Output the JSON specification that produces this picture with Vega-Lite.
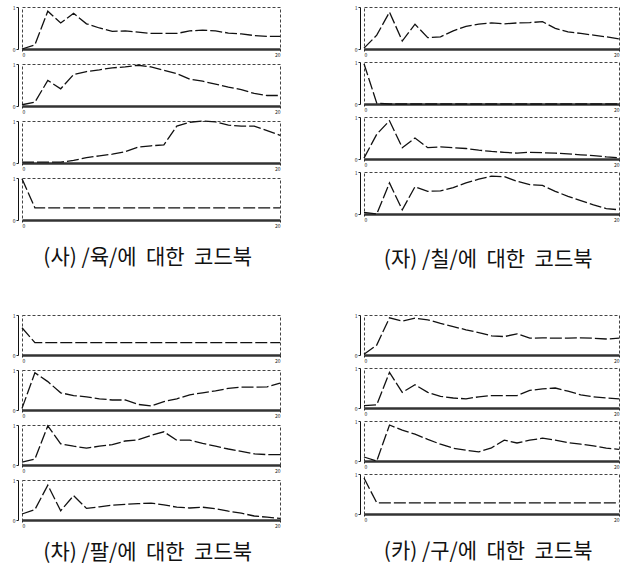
{
 "$schema": "https://vega.github.io/schema/vega-lite/v6.json",
 "background": "white",
 "padding": {"left": 12, "top": 5, "right": 5, "bottom": 2},
 "config": {
  "view": {"stroke": "#444", "strokeDash": [3, 2], "strokeWidth": 1},
  "font": "Noto Sans CJK KR",
  "title": {"fontSize": 21, "fontWeight": "normal", "color": "#111", "font": "Noto Sans CJK KR", "anchor": "middle"},
  "axis": {"grid": false, "title": null, "labelFontSize": 5, "labelColor": "#222", "tickSize": 2, "tickColor": "#222", "labelPadding": 1}
 },
 "data": {"values": [
  {"g":"A","p":1,"x":0,"y":0},{"g":"A","p":1,"x":1,"y":0.1},{"g":"A","p":1,"x":2,"y":0.9},{"g":"A","p":1,"x":3,"y":0.62},{"g":"A","p":1,"x":4,"y":0.85},{"g":"A","p":1,"x":5,"y":0.6},{"g":"A","p":1,"x":6,"y":0.5},{"g":"A","p":1,"x":7,"y":0.42},{"g":"A","p":1,"x":8,"y":0.43},{"g":"A","p":1,"x":9,"y":0.4},{"g":"A","p":1,"x":10,"y":0.37},{"g":"A","p":1,"x":11,"y":0.37},{"g":"A","p":1,"x":12,"y":0.37},{"g":"A","p":1,"x":13,"y":0.43},{"g":"A","p":1,"x":14,"y":0.45},{"g":"A","p":1,"x":15,"y":0.43},{"g":"A","p":1,"x":16,"y":0.38},{"g":"A","p":1,"x":17,"y":0.36},{"g":"A","p":1,"x":18,"y":0.32},{"g":"A","p":1,"x":19,"y":0.3},{"g":"A","p":1,"x":20,"y":0.3},
  {"g":"A","p":2,"x":0,"y":0.03},{"g":"A","p":2,"x":1,"y":0.09},{"g":"A","p":2,"x":2,"y":0.61},{"g":"A","p":2,"x":3,"y":0.41},{"g":"A","p":2,"x":4,"y":0.75},{"g":"A","p":2,"x":5,"y":0.82},{"g":"A","p":2,"x":6,"y":0.86},{"g":"A","p":2,"x":7,"y":0.91},{"g":"A","p":2,"x":8,"y":0.93},{"g":"A","p":2,"x":9,"y":0.97},{"g":"A","p":2,"x":10,"y":0.93},{"g":"A","p":2,"x":11,"y":0.85},{"g":"A","p":2,"x":12,"y":0.77},{"g":"A","p":2,"x":13,"y":0.64},{"g":"A","p":2,"x":14,"y":0.59},{"g":"A","p":2,"x":15,"y":0.52},{"g":"A","p":2,"x":16,"y":0.45},{"g":"A","p":2,"x":17,"y":0.39},{"g":"A","p":2,"x":18,"y":0.3},{"g":"A","p":2,"x":19,"y":0.25},{"g":"A","p":2,"x":20,"y":0.25},
  {"g":"A","p":3,"x":0,"y":0.02},{"g":"A","p":3,"x":1,"y":0.02},{"g":"A","p":3,"x":2,"y":0.02},{"g":"A","p":3,"x":3,"y":0.02},{"g":"A","p":3,"x":4,"y":0.06},{"g":"A","p":3,"x":5,"y":0.13},{"g":"A","p":3,"x":6,"y":0.17},{"g":"A","p":3,"x":7,"y":0.21},{"g":"A","p":3,"x":8,"y":0.27},{"g":"A","p":3,"x":9,"y":0.38},{"g":"A","p":3,"x":10,"y":0.41},{"g":"A","p":3,"x":11,"y":0.43},{"g":"A","p":3,"x":12,"y":0.88},{"g":"A","p":3,"x":13,"y":0.97},{"g":"A","p":3,"x":14,"y":1},{"g":"A","p":3,"x":15,"y":0.98},{"g":"A","p":3,"x":16,"y":0.9},{"g":"A","p":3,"x":17,"y":0.88},{"g":"A","p":3,"x":18,"y":0.88},{"g":"A","p":3,"x":19,"y":0.77},{"g":"A","p":3,"x":20,"y":0.66},
  {"g":"A","p":4,"x":0,"y":0.98},{"g":"A","p":4,"x":1,"y":0.29},{"g":"A","p":4,"x":2,"y":0.29},{"g":"A","p":4,"x":3,"y":0.29},{"g":"A","p":4,"x":4,"y":0.29},{"g":"A","p":4,"x":5,"y":0.29},{"g":"A","p":4,"x":6,"y":0.29},{"g":"A","p":4,"x":7,"y":0.29},{"g":"A","p":4,"x":8,"y":0.29},{"g":"A","p":4,"x":9,"y":0.29},{"g":"A","p":4,"x":10,"y":0.29},{"g":"A","p":4,"x":11,"y":0.29},{"g":"A","p":4,"x":12,"y":0.29},{"g":"A","p":4,"x":13,"y":0.29},{"g":"A","p":4,"x":14,"y":0.29},{"g":"A","p":4,"x":15,"y":0.29},{"g":"A","p":4,"x":16,"y":0.29},{"g":"A","p":4,"x":17,"y":0.29},{"g":"A","p":4,"x":18,"y":0.29},{"g":"A","p":4,"x":19,"y":0.29},{"g":"A","p":4,"x":20,"y":0.29},
  {"g":"B","p":1,"x":0,"y":0.02},{"g":"B","p":1,"x":1,"y":0.33},{"g":"B","p":1,"x":2,"y":0.88},{"g":"B","p":1,"x":3,"y":0.19},{"g":"B","p":1,"x":4,"y":0.59},{"g":"B","p":1,"x":5,"y":0.27},{"g":"B","p":1,"x":6,"y":0.29},{"g":"B","p":1,"x":7,"y":0.43},{"g":"B","p":1,"x":8,"y":0.54},{"g":"B","p":1,"x":9,"y":0.59},{"g":"B","p":1,"x":10,"y":0.62},{"g":"B","p":1,"x":11,"y":0.6},{"g":"B","p":1,"x":12,"y":0.62},{"g":"B","p":1,"x":13,"y":0.63},{"g":"B","p":1,"x":14,"y":0.65},{"g":"B","p":1,"x":15,"y":0.49},{"g":"B","p":1,"x":16,"y":0.41},{"g":"B","p":1,"x":17,"y":0.37},{"g":"B","p":1,"x":18,"y":0.33},{"g":"B","p":1,"x":19,"y":0.29},{"g":"B","p":1,"x":20,"y":0.24},
  {"g":"B","p":2,"x":0,"y":0.96},{"g":"B","p":2,"x":1,"y":0.02},{"g":"B","p":2,"x":2,"y":0},{"g":"B","p":2,"x":3,"y":0},{"g":"B","p":2,"x":4,"y":0},{"g":"B","p":2,"x":5,"y":0},{"g":"B","p":2,"x":6,"y":0},{"g":"B","p":2,"x":7,"y":0},{"g":"B","p":2,"x":8,"y":0},{"g":"B","p":2,"x":9,"y":0},{"g":"B","p":2,"x":10,"y":0},{"g":"B","p":2,"x":11,"y":0},{"g":"B","p":2,"x":12,"y":0},{"g":"B","p":2,"x":13,"y":0},{"g":"B","p":2,"x":14,"y":0},{"g":"B","p":2,"x":15,"y":0},{"g":"B","p":2,"x":16,"y":0},{"g":"B","p":2,"x":17,"y":0},{"g":"B","p":2,"x":18,"y":0},{"g":"B","p":2,"x":19,"y":0},{"g":"B","p":2,"x":20,"y":0},
  {"g":"B","p":3,"x":0,"y":0.02},{"g":"B","p":3,"x":1,"y":0.59},{"g":"B","p":3,"x":2,"y":0.91},{"g":"B","p":3,"x":3,"y":0.27},{"g":"B","p":3,"x":4,"y":0.5},{"g":"B","p":3,"x":5,"y":0.27},{"g":"B","p":3,"x":6,"y":0.29},{"g":"B","p":3,"x":7,"y":0.27},{"g":"B","p":3,"x":8,"y":0.25},{"g":"B","p":3,"x":9,"y":0.21},{"g":"B","p":3,"x":10,"y":0.18},{"g":"B","p":3,"x":11,"y":0.16},{"g":"B","p":3,"x":12,"y":0.14},{"g":"B","p":3,"x":13,"y":0.16},{"g":"B","p":3,"x":14,"y":0.15},{"g":"B","p":3,"x":15,"y":0.14},{"g":"B","p":3,"x":16,"y":0.12},{"g":"B","p":3,"x":17,"y":0.1},{"g":"B","p":3,"x":18,"y":0.08},{"g":"B","p":3,"x":19,"y":0.05},{"g":"B","p":3,"x":20,"y":0.03},
  {"g":"B","p":4,"x":0,"y":0.04},{"g":"B","p":4,"x":1,"y":0},{"g":"B","p":4,"x":2,"y":0.74},{"g":"B","p":4,"x":3,"y":0.1},{"g":"B","p":4,"x":4,"y":0.65},{"g":"B","p":4,"x":5,"y":0.54},{"g":"B","p":4,"x":6,"y":0.55},{"g":"B","p":4,"x":7,"y":0.63},{"g":"B","p":4,"x":8,"y":0.74},{"g":"B","p":4,"x":9,"y":0.83},{"g":"B","p":4,"x":10,"y":0.9},{"g":"B","p":4,"x":11,"y":0.89},{"g":"B","p":4,"x":12,"y":0.78},{"g":"B","p":4,"x":13,"y":0.7},{"g":"B","p":4,"x":14,"y":0.68},{"g":"B","p":4,"x":15,"y":0.54},{"g":"B","p":4,"x":16,"y":0.42},{"g":"B","p":4,"x":17,"y":0.32},{"g":"B","p":4,"x":18,"y":0.22},{"g":"B","p":4,"x":19,"y":0.13},{"g":"B","p":4,"x":20,"y":0.1},
  {"g":"C","p":1,"x":0,"y":0.68},{"g":"C","p":1,"x":1,"y":0.31},{"g":"C","p":1,"x":2,"y":0.31},{"g":"C","p":1,"x":3,"y":0.31},{"g":"C","p":1,"x":4,"y":0.31},{"g":"C","p":1,"x":5,"y":0.31},{"g":"C","p":1,"x":6,"y":0.31},{"g":"C","p":1,"x":7,"y":0.31},{"g":"C","p":1,"x":8,"y":0.31},{"g":"C","p":1,"x":9,"y":0.31},{"g":"C","p":1,"x":10,"y":0.31},{"g":"C","p":1,"x":11,"y":0.31},{"g":"C","p":1,"x":12,"y":0.31},{"g":"C","p":1,"x":13,"y":0.31},{"g":"C","p":1,"x":14,"y":0.31},{"g":"C","p":1,"x":15,"y":0.31},{"g":"C","p":1,"x":16,"y":0.31},{"g":"C","p":1,"x":17,"y":0.31},{"g":"C","p":1,"x":18,"y":0.31},{"g":"C","p":1,"x":19,"y":0.31},{"g":"C","p":1,"x":20,"y":0.31},
  {"g":"C","p":2,"x":0,"y":0.04},{"g":"C","p":2,"x":1,"y":0.93},{"g":"C","p":2,"x":2,"y":0.71},{"g":"C","p":2,"x":3,"y":0.43},{"g":"C","p":2,"x":4,"y":0.36},{"g":"C","p":2,"x":5,"y":0.33},{"g":"C","p":2,"x":6,"y":0.28},{"g":"C","p":2,"x":7,"y":0.25},{"g":"C","p":2,"x":8,"y":0.25},{"g":"C","p":2,"x":9,"y":0.14},{"g":"C","p":2,"x":10,"y":0.1},{"g":"C","p":2,"x":11,"y":0.21},{"g":"C","p":2,"x":12,"y":0.28},{"g":"C","p":2,"x":13,"y":0.38},{"g":"C","p":2,"x":14,"y":0.43},{"g":"C","p":2,"x":15,"y":0.48},{"g":"C","p":2,"x":16,"y":0.54},{"g":"C","p":2,"x":17,"y":0.57},{"g":"C","p":2,"x":18,"y":0.57},{"g":"C","p":2,"x":19,"y":0.58},{"g":"C","p":2,"x":20,"y":0.67},
  {"g":"C","p":3,"x":0,"y":0.07},{"g":"C","p":3,"x":1,"y":0.15},{"g":"C","p":3,"x":2,"y":0.98},{"g":"C","p":3,"x":3,"y":0.53},{"g":"C","p":3,"x":4,"y":0.47},{"g":"C","p":3,"x":5,"y":0.42},{"g":"C","p":3,"x":6,"y":0.47},{"g":"C","p":3,"x":7,"y":0.51},{"g":"C","p":3,"x":8,"y":0.6},{"g":"C","p":3,"x":9,"y":0.63},{"g":"C","p":3,"x":10,"y":0.74},{"g":"C","p":3,"x":11,"y":0.83},{"g":"C","p":3,"x":12,"y":0.62},{"g":"C","p":3,"x":13,"y":0.62},{"g":"C","p":3,"x":14,"y":0.54},{"g":"C","p":3,"x":15,"y":0.47},{"g":"C","p":3,"x":16,"y":0.4},{"g":"C","p":3,"x":17,"y":0.34},{"g":"C","p":3,"x":18,"y":0.28},{"g":"C","p":3,"x":19,"y":0.26},{"g":"C","p":3,"x":20,"y":0.26},
  {"g":"C","p":4,"x":0,"y":0.15},{"g":"C","p":4,"x":1,"y":0.26},{"g":"C","p":4,"x":2,"y":0.87},{"g":"C","p":4,"x":3,"y":0.23},{"g":"C","p":4,"x":4,"y":0.61},{"g":"C","p":4,"x":5,"y":0.29},{"g":"C","p":4,"x":6,"y":0.33},{"g":"C","p":4,"x":7,"y":0.37},{"g":"C","p":4,"x":8,"y":0.39},{"g":"C","p":4,"x":9,"y":0.41},{"g":"C","p":4,"x":10,"y":0.42},{"g":"C","p":4,"x":11,"y":0.38},{"g":"C","p":4,"x":12,"y":0.32},{"g":"C","p":4,"x":13,"y":0.3},{"g":"C","p":4,"x":14,"y":0.32},{"g":"C","p":4,"x":15,"y":0.28},{"g":"C","p":4,"x":16,"y":0.22},{"g":"C","p":4,"x":17,"y":0.17},{"g":"C","p":4,"x":18,"y":0.1},{"g":"C","p":4,"x":19,"y":0.07},{"g":"C","p":4,"x":20,"y":0.04},
  {"g":"D","p":1,"x":0,"y":0.02},{"g":"D","p":1,"x":1,"y":0.25},{"g":"D","p":1,"x":2,"y":0.93},{"g":"D","p":1,"x":3,"y":0.85},{"g":"D","p":1,"x":4,"y":0.92},{"g":"D","p":1,"x":5,"y":0.88},{"g":"D","p":1,"x":6,"y":0.79},{"g":"D","p":1,"x":7,"y":0.71},{"g":"D","p":1,"x":8,"y":0.63},{"g":"D","p":1,"x":9,"y":0.56},{"g":"D","p":1,"x":10,"y":0.48},{"g":"D","p":1,"x":11,"y":0.46},{"g":"D","p":1,"x":12,"y":0.53},{"g":"D","p":1,"x":13,"y":0.42},{"g":"D","p":1,"x":14,"y":0.43},{"g":"D","p":1,"x":15,"y":0.42},{"g":"D","p":1,"x":16,"y":0.42},{"g":"D","p":1,"x":17,"y":0.43},{"g":"D","p":1,"x":18,"y":0.42},{"g":"D","p":1,"x":19,"y":0.4},{"g":"D","p":1,"x":20,"y":0.42},
  {"g":"D","p":2,"x":0,"y":0.06},{"g":"D","p":2,"x":1,"y":0.08},{"g":"D","p":2,"x":2,"y":0.89},{"g":"D","p":2,"x":3,"y":0.39},{"g":"D","p":2,"x":4,"y":0.58},{"g":"D","p":2,"x":5,"y":0.39},{"g":"D","p":2,"x":6,"y":0.29},{"g":"D","p":2,"x":7,"y":0.25},{"g":"D","p":2,"x":8,"y":0.23},{"g":"D","p":2,"x":9,"y":0.28},{"g":"D","p":2,"x":10,"y":0.31},{"g":"D","p":2,"x":11,"y":0.31},{"g":"D","p":2,"x":12,"y":0.31},{"g":"D","p":2,"x":13,"y":0.44},{"g":"D","p":2,"x":14,"y":0.48},{"g":"D","p":2,"x":15,"y":0.5},{"g":"D","p":2,"x":16,"y":0.42},{"g":"D","p":2,"x":17,"y":0.33},{"g":"D","p":2,"x":18,"y":0.28},{"g":"D","p":2,"x":19,"y":0.25},{"g":"D","p":2,"x":20,"y":0.23},
  {"g":"D","p":3,"x":0,"y":0.1},{"g":"D","p":3,"x":1,"y":0},{"g":"D","p":3,"x":2,"y":0.9},{"g":"D","p":3,"x":3,"y":0.77},{"g":"D","p":3,"x":4,"y":0.67},{"g":"D","p":3,"x":5,"y":0.54},{"g":"D","p":3,"x":6,"y":0.42},{"g":"D","p":3,"x":7,"y":0.32},{"g":"D","p":3,"x":8,"y":0.27},{"g":"D","p":3,"x":9,"y":0.23},{"g":"D","p":3,"x":10,"y":0.33},{"g":"D","p":3,"x":11,"y":0.52},{"g":"D","p":3,"x":12,"y":0.45},{"g":"D","p":3,"x":13,"y":0.52},{"g":"D","p":3,"x":14,"y":0.57},{"g":"D","p":3,"x":15,"y":0.52},{"g":"D","p":3,"x":16,"y":0.46},{"g":"D","p":3,"x":17,"y":0.42},{"g":"D","p":3,"x":18,"y":0.38},{"g":"D","p":3,"x":19,"y":0.32},{"g":"D","p":3,"x":20,"y":0.29},
  {"g":"D","p":4,"x":0,"y":0.9},{"g":"D","p":4,"x":1,"y":0.28},{"g":"D","p":4,"x":2,"y":0.28},{"g":"D","p":4,"x":3,"y":0.28},{"g":"D","p":4,"x":4,"y":0.28},{"g":"D","p":4,"x":5,"y":0.28},{"g":"D","p":4,"x":6,"y":0.28},{"g":"D","p":4,"x":7,"y":0.28},{"g":"D","p":4,"x":8,"y":0.28},{"g":"D","p":4,"x":9,"y":0.28},{"g":"D","p":4,"x":10,"y":0.28},{"g":"D","p":4,"x":11,"y":0.28},{"g":"D","p":4,"x":12,"y":0.28},{"g":"D","p":4,"x":13,"y":0.28},{"g":"D","p":4,"x":14,"y":0.28},{"g":"D","p":4,"x":15,"y":0.28},{"g":"D","p":4,"x":16,"y":0.28},{"g":"D","p":4,"x":17,"y":0.28},{"g":"D","p":4,"x":18,"y":0.28},{"g":"D","p":4,"x":19,"y":0.28},{"g":"D","p":4,"x":20,"y":0.28}
 ]},
 "spacing": 43,
 "vconcat": [
  {"spacing": 70, "hconcat": [
   {"title": {"text": "(사) /육/에\u00a0 대한\u00a0 코드북", "orient": "bottom", "offset": 18},
    "transform": [{"filter": "datum.g == 'A'"}],
    "facet": {"row": {"field": "p", "type": "ordinal", "header": null}},
    "spacing": 2,
    "resolve": {"axis": {"x": "independent"}},
    "spec": {"width": 258, "height": 42,
     "mark": {"type": "line", "color": "#111", "strokeWidth": 1.3, "strokeDash": [12, 3]},
     "encoding": {
      "x": {"field": "x", "type": "quantitative", "scale": {"domain": [0, 20], "nice": false}, "axis": {"values": [0, 20], "domainWidth": 2.5, "domainColor": "#333", "labelFlush": true}},
      "y": {"field": "y", "type": "quantitative", "scale": {"domain": [0, 1], "nice": false}, "axis": {"values": [0, 0.125, 0.25, 0.375, 0.5, 0.625, 0.75, 0.875, 1], "format": "d", "labelExpr": "datum.value == 0 || datum.value == 1 ? datum.label : ''", "domainColor": "#111"}}
     }}},
   {"title": {"text": "(자) /칠/에\u00a0 대한\u00a0 코드북", "orient": "bottom", "offset": 26},
    "transform": [{"filter": "datum.g == 'B'"}],
    "facet": {"row": {"field": "p", "type": "ordinal", "header": null}},
    "spacing": 2,
    "resolve": {"axis": {"x": "independent"}},
    "spec": {"width": 255, "height": 42,
     "mark": {"type": "line", "color": "#111", "strokeWidth": 1.3, "strokeDash": [12, 3]},
     "encoding": {
      "x": {"field": "x", "type": "quantitative", "scale": {"domain": [0, 20], "nice": false}, "axis": {"values": [0, 20], "domainWidth": 2.5, "domainColor": "#333", "labelFlush": true}},
      "y": {"field": "y", "type": "quantitative", "scale": {"domain": [0, 1], "nice": false}, "axis": {"values": [0, 0.125, 0.25, 0.375, 0.5, 0.625, 0.75, 0.875, 1], "format": "d", "labelExpr": "datum.value == 0 || datum.value == 1 ? datum.label : ''", "domainColor": "#111"}}
     }}}
  ]},
  {"spacing": 70, "hconcat": [
   {"title": {"text": "(차) /팔/에\u00a0 대한\u00a0 코드북", "orient": "bottom", "offset": 13},
    "transform": [{"filter": "datum.g == 'C'"}],
    "facet": {"row": {"field": "p", "type": "ordinal", "header": null}},
    "spacing": 3,
    "resolve": {"axis": {"x": "independent"}},
    "spec": {"width": 258, "height": 40,
     "mark": {"type": "line", "color": "#111", "strokeWidth": 1.3, "strokeDash": [12, 3]},
     "encoding": {
      "x": {"field": "x", "type": "quantitative", "scale": {"domain": [0, 20], "nice": false}, "axis": {"values": [0, 20], "domainWidth": 2.5, "domainColor": "#333", "labelFlush": true}},
      "y": {"field": "y", "type": "quantitative", "scale": {"domain": [0, 1], "nice": false}, "axis": {"values": [0, 0.125, 0.25, 0.375, 0.5, 0.625, 0.75, 0.875, 1], "format": "d", "labelExpr": "datum.value == 0 || datum.value == 1 ? datum.label : ''", "domainColor": "#111"}}
     }}},
   {"title": {"text": "(카) /구/에\u00a0 대한\u00a0 코드북", "orient": "bottom", "offset": 18},
    "transform": [{"filter": "datum.g == 'D'"}],
    "facet": {"row": {"field": "p", "type": "ordinal", "header": null}},
    "spacing": 3,
    "resolve": {"axis": {"x": "independent"}},
    "spec": {"width": 255, "height": 40,
     "mark": {"type": "line", "color": "#111", "strokeWidth": 1.3, "strokeDash": [12, 3]},
     "encoding": {
      "x": {"field": "x", "type": "quantitative", "scale": {"domain": [0, 20], "nice": false}, "axis": {"values": [0, 20], "domainWidth": 2.5, "domainColor": "#333", "labelFlush": true}},
      "y": {"field": "y", "type": "quantitative", "scale": {"domain": [0, 1], "nice": false}, "axis": {"values": [0, 0.125, 0.25, 0.375, 0.5, 0.625, 0.75, 0.875, 1], "format": "d", "labelExpr": "datum.value == 0 || datum.value == 1 ? datum.label : ''", "domainColor": "#111"}}
     }}}
  ]}
 ]
}
